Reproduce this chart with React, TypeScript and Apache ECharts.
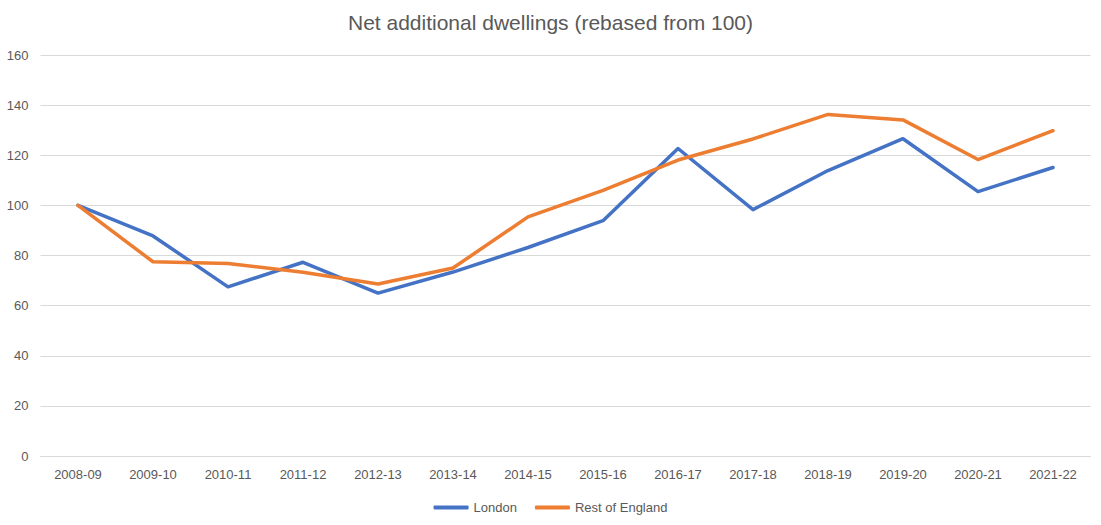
import React, { useEffect, useRef } from "react";
import * as echarts from "echarts";

const categories = ["2008-09", "2009-10", "2010-11", "2011-12", "2012-13", "2013-14", "2014-15", "2015-16", "2016-17", "2017-18", "2018-19", "2019-20", "2020-21", "2021-22"];
const london = [100, 87.8, 67.5, 77.3, 65.0, 73.4, 83.2, 93.9, 122.7, 98.3, 113.9, 126.6, 105.5, 115.1];
const restOfEngland = [100, 77.5, 76.8, 73.3, 68.6, 75.0, 95.4, 106.0, 118.1, 126.5, 136.3, 134.1, 118.3, 129.8];
const yTicks = { min: 0, max: 160, interval: 20 };

const FONT = "'Liberation Sans', Arial, sans-serif";
const TEXT = "#595959";

export default function App() {
  const ref = useRef<HTMLDivElement>(null);
  useEffect(() => {
    if (!ref.current) return;
    const chart = echarts.init(ref.current, undefined, { renderer: "svg" });
    chart.setOption({
      animation: false,
      backgroundColor: "#ffffff",
      textStyle: { fontFamily: FONT },
      title: {
        text: "Net additional dwellings (rebased from 100)",
        left: "center",
        top: 7,
        textStyle: { fontFamily: FONT, fontSize: 21, fontWeight: "normal", color: TEXT },
      },
      legend: {
        bottom: 6,
        left: "center",
        itemWidth: 35,
        itemHeight: 4,
        itemGap: 18,
        icon: "roundRect",
        textStyle: { fontFamily: FONT, fontSize: 13, color: TEXT },
        data: ["London", "Rest of England"],
      },
      grid: { left: 40.5, right: 10.5, top: 55, bottom: 69, containLabel: false },
      xAxis: {
        type: "category",
        data: categories,
        boundaryGap: true,
        axisLine: { show: true, lineStyle: { color: "#D9D9D9", width: 1 } },
        axisTick: { show: false },
        axisLabel: { color: TEXT, fontSize: 13, fontFamily: FONT, margin: 12, interval: 0 },
      },
      yAxis: {
        type: "value",
        min: yTicks.min,
        max: yTicks.max,
        interval: yTicks.interval,
        axisLine: { show: false },
        axisTick: { show: false },
        axisLabel: { color: TEXT, fontSize: 13, fontFamily: FONT, margin: 12 },
        splitLine: { lineStyle: { color: "#D9D9D9", width: 1 } },
      },
      series: [
        {
          name: "London",
          type: "line",
          data: london,
          showSymbol: false,
          symbol: "none",
          lineStyle: { color: "#4472C4", width: 3.5, cap: "round", join: "round" },
          itemStyle: { color: "#4472C4" },
        },
        {
          name: "Rest of England",
          type: "line",
          data: restOfEngland,
          showSymbol: false,
          symbol: "none",
          lineStyle: { color: "#ED7D31", width: 3.5, cap: "round", join: "round" },
          itemStyle: { color: "#ED7D31" },
        },
      ],
    });
    return () => chart.dispose();
  }, []);
  return (
    <div
      ref={ref}
      style={{ position: "absolute", left: 0, top: 0, width: 1101, height: 525 }}
    />
  );
}
